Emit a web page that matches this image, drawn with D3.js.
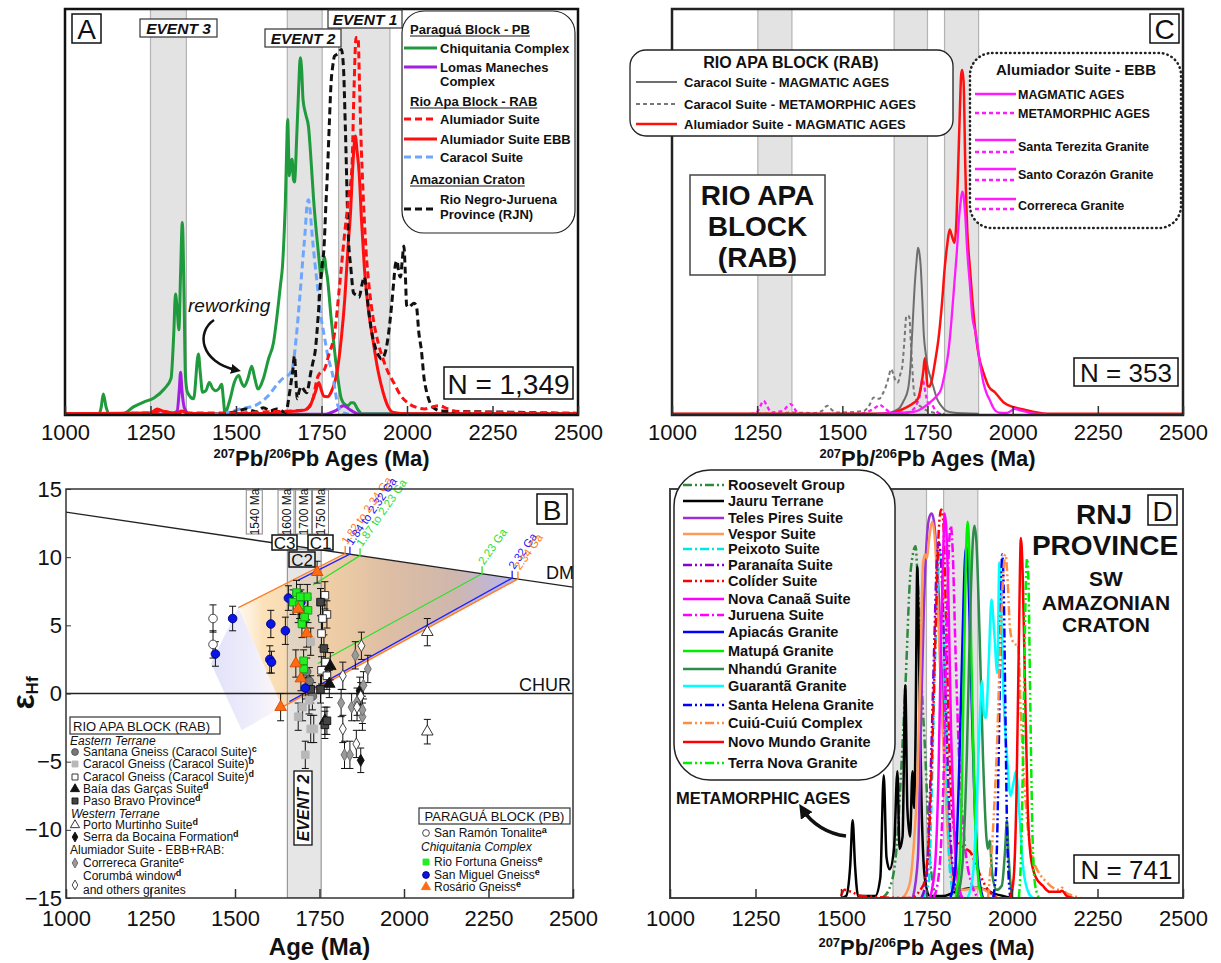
<!DOCTYPE html>
<html>
<head>
<meta charset="utf-8">
<script src="https://cdn.jsdelivr.net/npm/d3@7"></script>
<style>
  body { margin: 0; background: #fff; }
  svg { font-family: "Liberation Sans", Arial, sans-serif; }
</style>
</head>
<body>
<svg id="fig" width="1221" height="963"></svg>
<script>
// ---------- shared ticks ----------
const ageTicks = [1000, 1250, 1500, 1750, 2000, 2250, 2500];
const hfTicks = [-15, -10, -5, 0, 5, 10, 15];

// ---------- panel A : [age, relative density %] ----------
const chiquitania = [[1000,0.3],[1100,0.3],[1106,2],[1112,5.2],[1120,2],[1130,0.3],[1170,0.3],[1200,2],[1230,3.2],[1260,4.2],[1290,6.4],[1310,9],[1318,20],[1323,29.8],[1328,26],[1333,21],[1338,35],[1343,47.4],[1348,30],[1352,10],[1358,5.6],[1376,4],[1390,15],[1396,10],[1402,5.6],[1412,6],[1422,8],[1432,6.5],[1440,6],[1450,6.5],[1458,7.6],[1463,4],[1468,0.3],[1476,2],[1483,4],[1495,8],[1508,9.7],[1516,8],[1524,7],[1535,9],[1546,12],[1555,9],[1564,6.4],[1580,9],[1595,13.8],[1610,18],[1620,24.4],[1630,32],[1636,36.7],[1641,45],[1644,51.5],[1648,65],[1651,72.8],[1656,58.9],[1660,62],[1664,63],[1668,58],[1671,57.4],[1678,69.5],[1683,80],[1688,88],[1692,85],[1696,77.7],[1704,74],[1712,71],[1720,62],[1727,53],[1735,45],[1742,39],[1749,34],[1754,37],[1759,39],[1763,36],[1767,34],[1778,24],[1788,16],[1798,9],[1808,4],[1820,2.5],[1828,2.3],[1836,3],[1844,3],[1855,1.5],[1869,0.3],[2500,0.3]];
const lomasManeches = [[1000,0.2],[1310,0.2],[1328,1],[1334,6],[1338,10.5],[1342,6],[1350,1.5],[1365,0.2],[1760,0.2],[1790,1],[1814,2.3],[1835,1.2],[1860,0.2],[2500,0.2]];
const alumiadorRab = [[1000,0.3],[1250,0.5],[1280,1],[1320,0.5],[1500,0.5],[1600,0.8],[1700,1.2],[1725,4],[1737,8.9],[1747,10.5],[1757,11],[1772,15],[1788,20],[1803,32],[1818,45],[1830,54],[1839,61],[1845,80],[1851,93],[1857,93],[1861,82],[1865,69.5],[1872,54],[1880,40.8],[1890,31],[1900,24.4],[1915,18],[1930,13.8],[1945,10.5],[1961,8],[1980,5],[2002,3],[2030,1.8],[2052,1.5],[2075,2],[2093,2.3],[2120,1.5],[2150,0.8],[2300,0.6],[2500,0.4]];
const alumiadorEbb = [[1000,0.3],[1250,0.5],[1270,1.5],[1290,0.8],[1330,0.5],[1340,1],[1360,0.4],[1600,0.4],[1650,0.8],[1700,1.2],[1715,2],[1725,4],[1732,5.6],[1742,8],[1750,6],[1757,4.6],[1768,4.5],[1778,5.6],[1790,8.5],[1798,12],[1808,19],[1818,28.5],[1828,42],[1835,50],[1839,57],[1845,66],[1849,68.7],[1854,65],[1860,59.7],[1867,48],[1875,36.7],[1887,26],[1900,18.7],[1915,11],[1930,5.6],[1945,2],[1961,0.6],[2000,0.3],[2500,0.3]];
const caracolA = [[1430,0.2],[1470,0.5],[1514,1.5],[1560,2.5],[1595,4.8],[1625,8],[1640,9.2],[1651,9.7],[1660,10.5],[1666,12],[1676,19],[1686,28.5],[1695,38],[1702,45],[1708,52],[1712,53],[1717,50],[1722,45],[1730,38],[1737,32.6],[1747,25],[1757,20],[1770,14],[1783,9.7],[1790,6],[1798,2.3],[1815,0.5],[1830,0.2]];
const rioNegroJuruena = [[1450,0.3],[1500,0.8],[1530,1.5],[1560,0.8],[1580,1.8],[1600,1],[1620,1.5],[1646,0.6],[1654,4],[1661,8],[1666,11],[1671,14.6],[1675,9],[1679,4],[1685,6],[1691,7],[1700,6],[1707,5.5],[1712,7],[1717,9.7],[1725,13],[1732,16],[1740,24],[1747,32.6],[1752,37],[1757,40.8],[1763,52],[1768,61],[1773,72],[1778,81.8],[1783,86],[1788,88.4],[1798,89],[1808,90],[1814,86],[1820,70],[1828,45],[1836,36],[1844,30],[1852,29.5],[1860,29],[1868,32],[1875,34],[1882,30],[1890,24.4],[1900,19],[1910,16],[1918,14.5],[1925,13.8],[1935,15],[1946,20],[1955,27],[1961,32.6],[1966,37],[1971,38],[1976,35],[1981,34],[1986,38],[1991,41.6],[1995,35],[1999,27],[2005,26.5],[2012,27],[2020,27.5],[2027,27],[2035,20],[2042,16],[2050,9],[2058,5.5],[2070,2.5],[2083,1.5],[2100,1],[2200,0.8],[2300,0.7],[2400,0.5],[2500,0.4]];
const eventsA = [[1250, 1355], [1650, 1752], [1800, 1950]];

// ---------- panel C ----------
const caracolMagC = [[1000,0.3],[1620,0.3],[1665,1.5],[1680,3.5],[1693,6.4],[1700,12],[1705,20],[1713,32.6],[1718,38],[1722,41.2],[1726,40],[1730,36.7],[1735,28],[1739,20],[1745,15],[1750,12],[1758,9.5],[1767,7],[1778,4],[1790,2.3],[1805,1],[1823,0.6],[1900,0.3]];
const caracolMetC = [[1250,0.3],[1300,0.3],[1348,0.6],[1420,0.5],[1440,1],[1456,2.3],[1470,1.2],[1484,0.6],[1563,1],[1580,2.5],[1592,4.3],[1600,4],[1609,4],[1617,5],[1625,6.4],[1635,9],[1643,11.3],[1650,10],[1656,8.5],[1663,8],[1670,10],[1676,12],[1682,18],[1688,24.4],[1693,24.5],[1697,24],[1701,18],[1705,12],[1710,6],[1716,4],[1725,2.5],[1733,1.9],[1750,1],[1767,0.6],[1790,0.3]];
const alumiadorMagC = [[1000,0.3],[1600,0.3],[1643,0.5],[1688,1.9],[1710,3],[1722,4],[1733,8],[1738,11],[1742,14],[1746,11],[1750,7.2],[1755,7],[1761,8],[1772,13],[1784,20],[1793,28],[1801,36.7],[1808,42],[1815,45.7],[1822,44],[1829,42.4],[1835,48],[1840,61],[1845,75],[1849,84],[1852,85],[1856,82],[1861,61],[1867,45],[1874,36.7],[1882,28],[1891,20.3],[1902,14],[1914,10.5],[1930,7],[1948,5.6],[1975,3],[2004,1.9],[2040,1.2],[2072,0.6],[2100,0.3],[2500,0.3]];
const ebbMagC = [[1600,0.3],[1710,0.8],[1756,3],[1775,4.5],[1790,6.4],[1800,10],[1812,16],[1820,23],[1829,32.6],[1836,40],[1843,49],[1848,53],[1852,55],[1856,54],[1861,49],[1867,40],[1874,32.6],[1882,24],[1891,20.3],[1902,14],[1914,8],[1925,5],[1931,4],[1945,1.5],[1959,0.6],[1982,0.5],[1995,1],[2005,1.5],[2020,1.2],[2038,0.8],[2070,0.3],[2100,0.3]];
const ebbMetC = [[1230,0.3],[1247,0.4],[1258,2],[1269,3.5],[1280,2],[1292,0.6],[1310,0.8],[1326,1],[1337,2],[1348,2.7],[1360,1.5],[1371,0.3],[1552,0.3],[1580,1],[1600,2],[1609,2.5],[1620,2],[1643,0.6],[1688,0.6],[1710,1.5],[1720,3],[1727,4.7],[1731,7],[1735,8.8],[1740,7.5],[1744,5.5],[1752,3],[1761,2.7],[1775,1],[1790,0.3],[1800,0.3]];
const eventsC = [[1252, 1352], [1652, 1750], [1800, 1900]];

// ---------- panel D ----------
const roosevelt = [[1620,0],[1640,2],[1660,10],[1679,36],[1690,55],[1701,77],[1710,84],[1718,86],[1724,78],[1729,69],[1737,50],[1746,36],[1755,18],[1762,8],[1779,0]];
const jauru = [[1500,0],[1515,0.5],[1527,8],[1534,19],[1541,8],[1550,0.5],[1600,0.5],[1615,5],[1625,30],[1633,10],[1642,7],[1655,12],[1665,31],[1671,12],[1680,15],[1688,52],[1694,22],[1702,15],[1709,31],[1714,22],[1718,40],[1723,81],[1728,60],[1735,25],[1745,5],[1760,0.5],[1800,0.5],[1850,2],[1900,2.5],[1950,1],[2000,0]];
const telesPires = [[1710,0],[1725,10],[1734,44],[1742,70],[1751,88],[1758,93],[1765,94],[1772,92],[1779,85],[1788,70],[1796,52],[1804,30],[1812,20],[1823,8],[1835,2],[1850,0]];
const vespor = [[1680,0],[1701,3.5],[1712,12],[1723,28],[1732,55],[1740,82],[1746,84],[1751,83],[1758,88],[1766,92],[1772,90],[1779,81],[1788,60],[1796,43],[1804,30],[1812,16],[1823,6],[1835,3],[1860,2],[1900,2.5],[1930,1.5],[1960,0]];
const peixoto = [[1740,0],[1757,4],[1765,25],[1773,52],[1782,75],[1790,85],[1796,78],[1801,61],[1808,38],[1815,12],[1822,4],[1829,0]];
const paranaita = [[1735,0],[1750,5],[1762,30],[1772,60],[1780,82],[1786,87],[1792,83],[1800,65],[1810,38],[1820,15],[1830,5],[1845,0]];
const colider = [[1500,0.5],[1510,2],[1530,1.5],[1560,0.5],[1700,0],[1740,3],[1755,12],[1768,40],[1778,70],[1786,90],[1793,95],[1799,92],[1806,72],[1814,45],[1822,25],[1835,15],[1850,13],[1866,12],[1880,11],[1895,8],[1910,5],[1930,2],[1960,0]];
const novaCanaa = [[1760,0],[1775,8],[1785,30],[1793,65],[1800,88],[1803,94],[1808,90],[1815,70],[1822,40],[1830,18],[1840,5],[1855,0]];
const juruena = [[1770,0],[1785,5],[1800,30],[1810,70],[1817,88],[1821,91],[1826,86],[1835,60],[1845,35],[1855,20],[1866,10],[1880,4],[1900,0]];
const apiacas = [[1820,0],[1835,8],[1845,30],[1855,62],[1862,82],[1866,86],[1871,82],[1880,55],[1890,25],[1900,8],[1915,0]];
const matupa = [[1835,0],[1848,10],[1857,45],[1864,78],[1870,92],[1875,85],[1882,55],[1890,25],[1900,6],[1912,0]];
const nhandu = [[1840,0],[1855,8],[1868,35],[1878,70],[1886,88],[1890,91],[1896,87],[1905,65],[1915,35],[1925,15],[1929,12],[1935,14],[1942,6],[1955,2],[1970,3],[1980,12],[1985,19],[1990,10],[2000,0]];
const guaranta = [[1870,0],[1885,5],[1898,25],[1905,42],[1912,53],[1918,45],[1924,44],[1932,58],[1940,73],[1948,65],[1957,55],[1963,82],[1968,72],[1975,50],[1985,35],[1996,25],[2004,28],[2012,31],[2022,20],[2032,8],[2045,2],[2060,0]];
const santaHelena = [[1945,0],[1955,10],[1962,40],[1968,72],[1971,84],[1975,78],[1980,50],[1986,15],[1995,0]];
const cuiuCuiu = [[1930,0],[1946,19],[1955,35],[1965,60],[1975,80],[1981,84],[1987,78],[1994,66],[2001,63],[2010,62],[2018,62],[2026,45],[2035,30],[2045,18],[2060,10],[2080,6],[2100,4],[2120,2.5],[2140,2],[2146,2.5],[2155,1.5],[2180,0.5],[2200,0]];
const novoMundo = [[1995,0],[2005,5],[2013,25],[2020,62],[2026,88],[2031,80],[2038,52],[2046,22],[2055,10],[2070,5],[2090,3],[2110,1.5],[2140,1.5],[2146,1.8],[2160,0.5],[2180,0]];
const terraNova = [[2020,0],[2028,15],[2035,50],[2040,75],[2044,83],[2048,78],[2053,50],[2060,15],[2068,3],[2080,0]];
const eventsD = [[1652, 1750], [1800, 1900]];

// ---------- panel B : [age Ma, eHf, 2s error] ----------
const sanRamon = [[1435,5.5,1],[1435,3.6,1]];
const sanMiguel = [[1442,2.9,0.9],[1493,5.5,0.9],[1606,5.1,1],[1603,2.5,1],[1608,2.3,0.8],[1649,4.6,1],[1658,7.0,0.9],[1695,6.7,0.9],[1708,0.4,0.8]];
const rioFortuna = [[1682,7.4,0.9],[1672,6.7,0.9],[1691,6.5,1],[1714,7.1,0.9],[1716,6.1,0.9],[1698,5.1,1],[1703,2.4,0.8],[1703,1.8,0.8],[1693,7.1,0.9],[1706,5.6,0.8]];
const rosario = [[1743,8.9,0.8],[1687,6.2,1],[1712,4.4,1],[1680,2.2,1],[1695,1.1,0.9],[1635,-1.0,1]];
const santana = [[1729,-0.2,1],[1712,1.6,1],[1720,0.9,1]];
const caracolB = [[1687,-1.7,1],[1708,-4.5,1],[1724,-2.6,1],[1733,-2.6,1],[1719,-0.5,1],[1724,3.8,1],[1700,-1.0,1]];
const caracolD = [[1766,7.2,1],[1772,5.8,1],[1759,5.5,1],[1756,4.4,1],[1768,2.3,1],[1756,1.7,1],[1772,1.3,1]];
const baiaGarcas = [[1782,2.0,1],[1779,0.7,1],[1766,-2.0,1]];
const pasoBravo = [[1753,6.7,1],[1763,3.3,1],[1753,0.3,1],[1724,0.3,1],[1766,-2.3,1],[1772,-2.0,1]];
const portoMurtinho = [[2069,4.5,1],[2069,-2.8,0.9]];
const serraBocaina = [[1872,-4.9,0.9],[1869,0.2,1]];
const correreca = [[1856,2.8,1],[1893,1.8,1],[1814,-0.7,1],[1845,-1.0,1],[1861,-0.6,1],[1877,-1.7,1],[1824,-4.5,1],[1840,-4.5,1],[1880,0.6,1],[1877,-1.2,1]];
const corumba = [[1819,1.3,1],[1874,3.5,1],[1819,-2.6,1],[1859,-3.7,1],[1861,-1.0,1],[1872,-0.2,1]];

const dmLine = [[1000, 13.3], [2500, 7.8]];
const crustEnvelope = [[1510, 6.3], [1826, 10.25], [2337, 8.4], [1640, -1.0]];
const blueWedge = [[1510, 6.3], [1429, 2.2], [1520, -2.7], [1640, -1.0]];
// [start age, start eHf, model age on DM]
const evolution = [
  {from: [1510, 6.3], to: 1826, label: "1.82 to 2.34 Ga", c: "#ff7a22"},
  {from: [1686, 8.3], to: 1840, label: "1.84 to 2.32 Ga", c: "#2020ff"},
  {from: [1731, 7.96], to: 1870, label: "1.87 to 2.23 Ga", c: "#2ee02e"},
  {from: [1745, 2.2], to: 2231, label: "2.23 Ga", c: "#2ee02e"},
  {from: [1661, -0.6], to: 2320, label: "2.32 Ga", c: "#2020ff"},
  {from: [1640, -1.0], to: 2337, label: "2.34 Ga", c: "#ff7a22"}
];
const bandLabels = [[1557, "1540 Ma"], [1651, "1600 Ma"], [1703, "1700 Ma"], [1753, "1750 Ma"]];
const event2B = [1655, 1755];

const dm = a => 13.3 - (a - 1000) / 1500 * 5.5;

// ---------- setup ----------
const svg = d3.select("#fig");
const defs = svg.append("defs");
const panA = {x0: 65, x1: 578, y0: 9, y1: 415};
const panB = {x0: 66, x1: 573, y0: 489, y1: 898};
const panC = {x0: 672, x1: 1183, y0: 9, y1: 415};
const panD = {x0: 670, x1: 1183, y0: 489, y1: 898};

const xA = d3.scaleLinear([1000, 2500], [panA.x0, panA.x1]);
const yA = d3.scaleLinear([0, 100], [panA.y1, panA.y0]);
const xB = d3.scaleLinear([1000, 2500], [panB.x0, panB.x1]);
const yB = d3.scaleLinear([-15, 15], [panB.y1, panB.y0]);
const xC = d3.scaleLinear([1000, 2500], [panC.x0, panC.x1]);
const yC = d3.scaleLinear([0, 100], [panC.y1, panC.y0]);
const xD = d3.scaleLinear([1000, 2500], [panD.x0, panD.x1]);
const yD = d3.scaleLinear([0, 100], [panD.y1, panD.y0]);

function clip(id, p) {
  defs.append("clipPath").attr("id", id).append("rect")
    .attr("x", p.x0).attr("y", p.y0).attr("width", p.x1 - p.x0).attr("height", p.y1 - p.y0);
}
clip("clipA", panA); clip("clipB", panB); clip("clipC", panC); clip("clipD", panD);

defs.append("marker").attr("id", "arrow").attr("viewBox", "0 0 10 10")
  .attr("refX", 5).attr("refY", 5).attr("markerWidth", 4).attr("markerHeight", 4)
  .attr("orient", "auto").append("path").attr("d", "M0,0 L10,5 L0,10 z").attr("fill", "#111");

function bands(g, x, p, list) {
  list.forEach(b => {
    g.append("rect").attr("x", x(b[0])).attr("y", p.y0).attr("width", x(b[1]) - x(b[0]))
      .attr("height", p.y1 - p.y0).attr("fill", "#e3e3e3").attr("stroke", "#b3b3b3").attr("stroke-width", 1.2);
  });
}

function curve(g, x, y, data, st) {
  const line = d3.line().x(d => x(d[0])).y(d => y(d[1])).curve(d3.curveMonotoneX);
  g.append("path").attr("d", line(data)).attr("fill", "none")
    .attr("stroke", st.c).attr("stroke-width", st.w || 2.5)
    .attr("stroke-dasharray", st.dash || null).attr("stroke-linejoin", "round");
}

function frame(p, sw, col) {
  svg.append("rect").attr("x", p.x0).attr("y", p.y0).attr("width", p.x1 - p.x0).attr("height", p.y1 - p.y0)
    .attr("fill", "none").attr("stroke", col).attr("stroke-width", sw);
}

function ageAxis(x, p, pad) {
  const ax = d3.axisBottom(x).tickValues(ageTicks).tickFormat(d3.format("d"))
    .tickSizeInner(-9).tickSizeOuter(0).tickPadding(pad);
  const a = svg.append("g").attr("transform", `translate(0,${p.y1})`).call(ax);
  a.attr("font-family", null).attr("font-size", 22);
  a.select(".domain").remove();
  a.selectAll("line").attr("stroke", "#333").attr("stroke-width", 1.5);
  a.selectAll("text").attr("fill", "#111");
}

function pbTitle(cx, y) {
  const t = svg.append("text").attr("x", cx).attr("y", y).attr("text-anchor", "middle")
    .attr("font-weight", "bold").attr("font-size", 22).attr("fill", "#111");
  t.append("tspan").attr("font-size", 13).attr("dy", -8).text("207");
  t.append("tspan").attr("dy", 8).text("Pb/");
  t.append("tspan").attr("font-size", 13).attr("dy", -8).text("206");
  t.append("tspan").attr("dy", 8).text("Pb Ages (Ma)");
}

function box(x, y, w, h, opt = {}) {
  return svg.append("rect").attr("x", x).attr("y", y).attr("width", w).attr("height", h)
    .attr("rx", opt.rx || 0).attr("fill", opt.fill || "#fff")
    .attr("stroke", opt.stroke || "#111").attr("stroke-width", opt.sw || 1.5)
    .attr("stroke-dasharray", opt.dash || null).attr("stroke-linecap", opt.cap || null);
}

function label(x, y, txt, opt = {}) {
  return svg.append("text").attr("x", x).attr("y", y).text(txt)
    .attr("font-size", opt.size || 13).attr("font-weight", opt.bold ? "bold" : null)
    .attr("font-style", opt.italic ? "italic" : null).attr("fill", opt.fill || "#111")
    .attr("text-anchor", opt.anchor || "start");
}

function sample(x1, x2, y, st) {
  svg.append("line").attr("x1", x1).attr("x2", x2).attr("y1", y).attr("y2", y)
    .attr("stroke", st.c).attr("stroke-width", st.w || 2.5).attr("stroke-dasharray", st.dash || null);
}

// ================= PANEL A =================
const gA = svg.append("g").attr("clip-path", "url(#clipA)");
bands(gA, xA, panA, eventsA);
const stA = {
  chiq: {c: "#1f9a3c", w: 3}, lomas: {c: "#a21ee0", w: 3}, ebb: {c: "#ff1010", w: 3},
  car: {c: "#6ea6ff", w: 3, dash: "7,4"}, rjn: {c: "#111", w: 3, dash: "7,4"}, rab: {c: "#ff1010", w: 3, dash: "7,4"}
};
curve(gA, xA, yA, chiquitania, stA.chiq);
curve(gA, xA, yA, lomasManeches, stA.lomas);
curve(gA, xA, yA, alumiadorEbb, stA.ebb);
curve(gA, xA, yA, caracolA, stA.car);
curve(gA, xA, yA, rioNegroJuruena, stA.rjn);
curve(gA, xA, yA, alumiadorRab, stA.rab);
frame(panA, 2.5, "#111");
ageAxis(xA, panA, 9);
pbTitle((panA.x0 + panA.x1) / 2, 466);

box(72, 14, 29, 29, {sw: 1.5});
label(86.5, 39, "A", {size: 28, anchor: "middle"});
[["EVENT 3", 140, 19, 77], ["EVENT 2", 265, 29, 76], ["EVENT 1", 328, 10, 74]].forEach(e => {
  box(e[1], e[2], e[3], 18, {sw: 1.2, stroke: "#333"});
  label(e[1] + e[3] / 2, e[2] + 15, e[0], {size: 15.5, bold: true, italic: true, anchor: "middle"});
});

box(402, 11, 173, 222, {rx: 22, sw: 1.2, stroke: "#222"});
function header(x, y, t) {
  const el = label(x, y, t, {size: 13, bold: true});
  const w = el.node().getComputedTextLength();
  svg.append("line").attr("x1", x).attr("x2", x + w).attr("y1", y + 2).attr("y2", y + 2)
    .attr("stroke", "#111").attr("stroke-width", 1);
}
header(410, 34, "Paraguá Block - PB");
sample(404, 437, 48, stA.chiq); label(440, 52.5, "Chiquitania Complex", {bold: true});
sample(404, 437, 67, stA.lomas); label(440, 71.5, "Lomas Maneches", {bold: true}); label(440, 86, "Complex", {bold: true});
header(410, 106, "Rio Apa Block - RAB");
sample(404, 437, 119, stA.rab); label(440, 123.5, "Alumiador Suite", {bold: true});
sample(404, 437, 139, stA.ebb); label(440, 143.5, "Alumiador Suite EBB", {bold: true});
sample(404, 437, 157, stA.car); label(440, 161.5, "Caracol Suite", {bold: true});
header(410, 184, "Amazonian Craton");
sample(404, 437, 209, stA.rjn); label(440, 204, "Rio Negro-Juruena", {bold: true}); label(440, 219, "Province (RJN)", {bold: true});

box(444, 367, 129, 32, {sw: 1.5});
label(508.5, 394, "N = 1,349", {size: 28, anchor: "middle"});

label(188, 312, "reworking", {size: 19, italic: true});
svg.append("path").attr("d", "M214,320 C196,332 200,362 236,370").attr("fill", "none")
  .attr("stroke", "#111").attr("stroke-width", 2.5).attr("marker-end", "url(#arrow)");

// ================= PANEL C =================
const gC = svg.append("g").attr("clip-path", "url(#clipC)");
bands(gC, xC, panC, eventsC);
const stC = {
  carMag: {c: "#6e6e6e", w: 2}, carMet: {c: "#777", w: 2, dash: "4,3"},
  alum: {c: "#ff1010", w: 2.5}, ebbMag: {c: "#ff1aff", w: 2.3}, ebbMet: {c: "#ff1aff", w: 2.3, dash: "4,3"}
};
curve(gC, xC, yC, caracolMetC, stC.carMet);
curve(gC, xC, yC, caracolMagC, stC.carMag);
curve(gC, xC, yC, ebbMetC, stC.ebbMet);
curve(gC, xC, yC, alumiadorMagC, stC.alum);
curve(gC, xC, yC, ebbMagC, stC.ebbMag);
frame(panC, 2.5, "#222");
ageAxis(xC, panC, 9);
pbTitle((panC.x0 + panC.x1) / 2, 466);

box(1150, 14, 29, 29, {sw: 1.5});
label(1164.5, 39, "C", {size: 28, anchor: "middle"});

box(630, 50, 323, 86, {rx: 16, sw: 1.3, stroke: "#222"});
label(791, 68, "RIO APA BLOCK (RAB)", {size: 16, bold: true, anchor: "middle"});
sample(636, 677, 82, stC.carMag); label(684, 87, "Caracol Suite - MAGMATIC AGES", {bold: true});
sample(636, 677, 104, stC.carMet); label(684, 109, "Caracol Suite - METAMORPHIC AGES", {bold: true});
sample(636, 677, 124, stC.alum); label(684, 129, "Alumiador Suite - MAGMATIC AGES", {bold: true});

box(970, 53, 211, 175, {rx: 22, sw: 2.5, stroke: "#222", dash: "0.5,4", cap: "round"});
label(1076, 75, "Alumiador Suite - EBB", {size: 15, bold: true, anchor: "middle"});
sample(975, 1016, 94, stC.ebbMag); label(1018, 98.5, "MAGMATIC AGES", {size: 12.5, bold: true});
sample(975, 1016, 113, stC.ebbMet); label(1018, 117.5, "METAMORPHIC AGES", {size: 12.5, bold: true});
[["Santa Terezita Granite", 140, 152, 151], ["Santo Corazón Granite", 169, 180, 179], ["Correreca Granite", 199, 209, 210]].forEach(r => {
  sample(975, 1016, r[1], stC.ebbMag);
  sample(975, 1016, r[2], stC.ebbMet);
  label(1018, r[3], r[0], {size: 12.5, bold: true});
});

box(690, 175, 135, 100, {sw: 1.5, stroke: "#444"});
label(757.5, 205, "RIO APA", {size: 28, bold: true, anchor: "middle"});
label(757.5, 236, "BLOCK", {size: 28, bold: true, anchor: "middle"});
label(757.5, 267, "(RAB)", {size: 28, bold: true, anchor: "middle"});

box(1074, 358, 104, 28, {sw: 1.5});
label(1126, 382, "N = 353", {size: 26, anchor: "middle"});

// ================= PANEL B =================
const gB = svg.append("g").attr("clip-path", "url(#clipB)");
const gradE = defs.append("linearGradient").attr("id", "gradEnv").attr("gradientUnits", "userSpaceOnUse")
  .attr("x1", xB(1480)).attr("x2", xB(2337)).attr("y1", 0).attr("y2", 0);
[[0, "#fff4e4", 0.2], [0.12, "#fbdcad", 0.85], [0.3, "#f2cc9c", 0.9], [0.55, "#dcbb9f", 0.95], [0.78, "#cdb3a8", 0.95], [1, "#b6b6f2", 1]]
  .forEach(s => gradE.append("stop").attr("offset", s[0]).attr("stop-color", s[1]).attr("stop-opacity", s[2]));
const gradW = defs.append("linearGradient").attr("id", "gradWedge").attr("gradientUnits", "userSpaceOnUse")
  .attr("x1", xB(1429)).attr("x2", xB(1640)).attr("y1", 0).attr("y2", 0);
[[0, "#dadaf8", 0.8], [0.6, "#e8e6fa", 0.7], [1, "#f6ecf0", 0.4]]
  .forEach(s => gradW.append("stop").attr("offset", s[0]).attr("stop-color", s[1]).attr("stop-opacity", s[2]));

const poly = d3.line().x(d => xB(d[0])).y(d => yB(d[1]));
gB.append("path").attr("d", poly(blueWedge) + "Z").attr("fill", "url(#gradWedge)");
gB.append("path").attr("d", poly(crustEnvelope) + "Z").attr("fill", "url(#gradEnv)");

gB.append("rect").attr("x", xB(event2B[0])).attr("y", yB(10.6)).attr("width", xB(event2B[1]) - xB(event2B[0]))
  .attr("height", yB(-15) - yB(10.6)).attr("fill", "#d2d2d2").attr("fill-opacity", 0.55)
  .attr("stroke", "#999").attr("stroke-width", 1.2);

gB.append("path").attr("d", poly(dmLine)).attr("stroke", "#222").attr("stroke-width", 1.3).attr("fill", "none");
gB.append("line").attr("x1", panB.x0).attr("x2", panB.x1).attr("y1", yB(0)).attr("y2", yB(0))
  .attr("stroke", "#222").attr("stroke-width", 1.3);

evolution.forEach(e => {
  const pts = [e.from, [e.to, dm(e.to)], [e.to, dm(e.to) + 0.55]];
  gB.append("path").attr("d", poly(pts)).attr("fill", "none").attr("stroke", e.c).attr("stroke-width", 1.3);
  svg.append("text").attr("transform", `translate(${xB(e.to) + 2},${yB(dm(e.to) + 0.6)}) rotate(-55)`)
    .attr("font-size", 11.5).attr("fill", e.c).text(e.label);
});

// error bars then symbols
const groupsB = [
  {d: santana, t: d3.symbolCircle, f: "#787878", s: "#505050"},
  {d: caracolB, t: d3.symbolSquare, f: "#b8b8b8", s: "#b8b8b8"},
  {d: caracolD, t: d3.symbolSquare, f: "#fff", s: "#222"},
  {d: baiaGarcas, t: d3.symbolTriangle, f: "#111", s: "#111"},
  {d: pasoBravo, t: d3.symbolSquare, f: "#444", s: "#111"},
  {d: portoMurtinho, t: d3.symbolTriangle, f: "#fff", s: "#222"},
  {d: serraBocaina, t: d3.symbolDiamond, f: "#111", s: "#111"},
  {d: correreca, t: d3.symbolDiamond, f: "#9a9a9a", s: "#666"},
  {d: corumba, t: d3.symbolDiamond, f: "#fff", s: "#333"},
  {d: sanRamon, t: d3.symbolCircle, f: "#fff", s: "#333"},
  {d: sanMiguel, t: d3.symbolCircle, f: "#0a14e6", s: "#00007a"},
  {d: rioFortuna, t: d3.symbolSquare, f: "#22ee22", s: "#12a012"},
  {d: rosario, t: d3.symbolTriangle, f: "#ff6a13", s: "#d04800"}
];
groupsB.forEach(gr => {
  gr.d.forEach(p => {
    const x = xB(p[0]), ya = yB(p[1] + p[2]), yb = yB(p[1] - p[2]);
    gB.append("line").attr("x1", x).attr("x2", x).attr("y1", ya).attr("y2", yb).attr("stroke", "#111").attr("stroke-width", 1);
    [ya, yb].forEach(yy => gB.append("line").attr("x1", x - 3.5).attr("x2", x + 3.5).attr("y1", yy).attr("y2", yy).attr("stroke", "#111").attr("stroke-width", 1));
  });
});
groupsB.forEach(gr => {
  gB.selectAll(null).data(gr.d).enter().append("path")
    .attr("d", d3.symbol(gr.t, gr.t === d3.symbolDiamond ? 42 : 58))
    .attr("transform", p => `translate(${xB(p[0])},${yB(p[1])})`)
    .attr("fill", gr.f).attr("stroke", gr.s).attr("stroke-width", 0.9);
});

frame(panB, 1.5, "#333");
ageAxis(xB, panB, 12);
const ayB = d3.axisLeft(yB).tickValues(hfTicks).tickSizeInner(-5).tickSizeOuter(0).tickPadding(4);
const gay = svg.append("g").attr("transform", `translate(${panB.x0},0)`).call(ayB);
gay.attr("font-family", null).attr("font-size", 22);
gay.select(".domain").remove();
gay.selectAll("line").attr("stroke", "#333");
gay.selectAll("text").attr("fill", "#111");

label((panB.x0 + panB.x1) / 2, 955, "Age (Ma)", {size: 24, bold: true, anchor: "middle"});
const eps = svg.append("text").attr("transform", "translate(34,693) rotate(-90)").attr("text-anchor", "middle")
  .attr("font-weight", "bold").attr("fill", "#111");
eps.append("tspan").attr("font-size", 32).text("ε");
eps.append("tspan").attr("font-size", 17).attr("dy", 4).text("Hf");

box(537, 494, 30, 30, {sw: 1.5});
label(552, 520, "B", {size: 28, anchor: "middle"});
label(546, 579, "DM", {size: 18});
label(519, 691, "CHUR", {size: 18});

bandLabels.forEach(b => {
  const cx = xB(b[0]);
  box(cx - 8, 490, 16, 44, {sw: 1, stroke: "#888"});
  svg.append("text").attr("transform", `translate(${cx + 4.5},512) rotate(-90)`).attr("text-anchor", "middle")
    .attr("font-size", 12).attr("fill", "#111").text(b[1]);
});
[["C3", 272, 535, 25, "#fff"], ["C1", 308, 535, 25, "#fff"], ["C2", 289, 552, 26, "#e4e4e4"]].forEach(c => {
  box(c[1], c[2], c[3], 15, {sw: 1.5, fill: c[4]});
  label(c[1] + c[3] / 2, c[2] + 14, c[0], {size: 17, anchor: "middle"});
});
box(294, 771, 18, 74, {sw: 1.3});
svg.append("text").attr("transform", "translate(309,808) rotate(-90)").attr("text-anchor", "middle")
  .attr("font-size", 16).attr("font-weight", "bold").attr("font-style", "italic").attr("fill", "#111").text("EVENT 2");

// legends panel B
function legSym(x, y, t, f, s) {
  svg.append("path").attr("d", d3.symbol(t, t === d3.symbolDiamond ? 28 : 36))
    .attr("transform", `translate(${x},${y})`).attr("fill", f).attr("stroke", s).attr("stroke-width", 0.9);
}
function legText(x, y, t, sup, opt = {}) {
  const el = label(x, y, t, {size: 12, italic: opt.italic});
  if (sup) el.append("tspan").attr("dy", -4).attr("font-size", 9).attr("font-weight", "bold").text(sup);
}
box(70, 717, 150, 17, {sw: 1.3, stroke: "#444"});
label(73, 730.5, "RIO APA BLOCK (RAB)", {size: 13});
legText(70, 745, "Eastern Terrane", null, {italic: true});
const rabLegend = [
  [756, d3.symbolCircle, "#787878", "#505050", "Santana Gneiss (Caracol Suite)", "c"],
  [768, d3.symbolSquare, "#b8b8b8", "#b8b8b8", "Caracol Gneiss (Caracol Suite)", "b"],
  [781, d3.symbolSquare, "#fff", "#222", "Caracol Gneiss (Caracol Suite)", "d"],
  [793, d3.symbolTriangle, "#111", "#111", "Baía das Garças Suite", "d"],
  [805, d3.symbolSquare, "#444", "#111", "Paso Bravo Province", "d"],
  [829, d3.symbolTriangle, "#fff", "#222", "Porto Murtinho Suite", "d"],
  [841, d3.symbolDiamond, "#111", "#111", "Serra da Bocaina Formation", "d"],
  [867, d3.symbolDiamond, "#9a9a9a", "#666", "Correreca Granite", "c"]
];
rabLegend.forEach(r => { legSym(75, r[0] - 4, r[1], r[2], r[3]); legText(83, r[0], r[4], r[5]); });
legText(71, 818, "Western Terrane", null, {italic: true});
label(70, 854, "Alumiador Suite - EBB+RAB:", {size: 12});
legText(83, 880, "Corumbá window", "d");
label(83, 894, "and others granites", {size: 12});
legSym(75, 885, d3.symbolDiamond, "#fff", "#333");

box(419, 808, 151, 16, {sw: 1.3, stroke: "#444"});
label(494.5, 821, "PARAGUÁ BLOCK (PB)", {size: 13, anchor: "middle"});
const pbLegend = [
  [837, d3.symbolCircle, "#fff", "#333", "San Ramón Tonalite", "a"],
  [866, d3.symbolSquare, "#22ee22", "#22ee22", "Rio Fortuna Gneiss", "e"],
  [879, d3.symbolCircle, "#0a14e6", "#00007a", "San Miguel Gneiss", "e"],
  [891, d3.symbolTriangle, "#ff6a13", "#ff6a13", "Rosário Gneiss", "e"]
];
pbLegend.forEach(r => { legSym(426, r[0] - 4, r[1], r[2], r[3]); legText(434, r[0], r[4], r[5]); });
legText(421, 851, "Chiquitania Complex", null, {italic: true});

// ================= PANEL D =================
const gD = svg.append("g").attr("clip-path", "url(#clipD)");
bands(gD, xD, panD, eventsD);
const dd = "9,3,2,3", ddd = "9,3,2,3,2,3";
const seriesD = [
  {n: "Roosevelt Group", d: roosevelt, c: "#2e8b3e", dash: ddd},
  {n: "Jauru Terrane", d: jauru, c: "#000"},
  {n: "Teles Pires Suite", d: telesPires, c: "#9b30d8"},
  {n: "Vespor Suite", d: vespor, c: "#ff9955"},
  {n: "Peixoto Suite", d: peixoto, c: "#00e5e5", dash: dd},
  {n: "Paranaíta Suite", d: paranaita, c: "#8a00d4", dash: ddd},
  {n: "Colíder Suite", d: colider, c: "#ff0000", dash: ddd},
  {n: "Nova Canaã Suite", d: novaCanaa, c: "#ff00ff"},
  {n: "Juruena Suite", d: juruena, c: "#ff00ff", dash: dd},
  {n: "Apiacás Granite", d: apiacas, c: "#0000ff"},
  {n: "Matupá Granite", d: matupa, c: "#00ee00"},
  {n: "Nhandú Granite", d: nhandu, c: "#2e8b4a"},
  {n: "Guarantã Granite", d: guaranta, c: "#00ffff"},
  {n: "Santa Helena Granite", d: santaHelena, c: "#0000ff", dash: ddd},
  {n: "Cuiú-Cuiú Complex", d: cuiuCuiu, c: "#ff8c40", dash: ddd},
  {n: "Novo Mundo Granite", d: novoMundo, c: "#ff0000"},
  {n: "Terra Nova Granite", d: terraNova, c: "#00ee00", dash: ddd}
];
seriesD.forEach(s => curve(gD, xD, yD, s.d, {c: s.c, w: 2.5, dash: s.dash}));
frame(panD, 2, "#444");
ageAxis(xD, panD, 12);
pbTitle((panD.x0 + panD.x1) / 2, 955);

box(674, 470, 221, 310, {rx: 36, sw: 1.5, stroke: "#222"});
const rowsD = [485, 501, 518, 534, 549, 565, 581, 599, 615, 632, 651, 669, 686, 705, 723, 742, 763];
seriesD.forEach((s, i) => {
  sample(683, 724, rowsD[i], {c: s.c, w: 2.5, dash: s.dash});
  label(728, rowsD[i] + 5, s.n, {size: 14.5, bold: true});
});

box(1148, 495, 29, 30, {sw: 1.5});
label(1162.5, 521, "D", {size: 28, anchor: "middle"});
label(1104, 524, "RNJ", {size: 28, bold: true, anchor: "middle"});
label(1105, 555, "PROVINCE", {size: 28, bold: true, anchor: "middle"});
label(1106, 586, "SW", {size: 21, bold: true, anchor: "middle"});
label(1106, 610, "AMAZONIAN", {size: 21, bold: true, anchor: "middle"});
label(1106, 632, "CRATON", {size: 21, bold: true, anchor: "middle"});

label(676, 804, "METAMORPHIC AGES", {size: 16.5, bold: true});
svg.append("path").attr("d", "M846,836 C828,834 812,824 803,810").attr("fill", "none")
  .attr("stroke", "#111").attr("stroke-width", 3.5).attr("marker-end", "url(#arrow)");

box(1074, 855, 105, 28, {sw: 1.5});
label(1126.5, 879, "N = 741", {size: 26, anchor: "middle"});
</script>
</body>
</html>
